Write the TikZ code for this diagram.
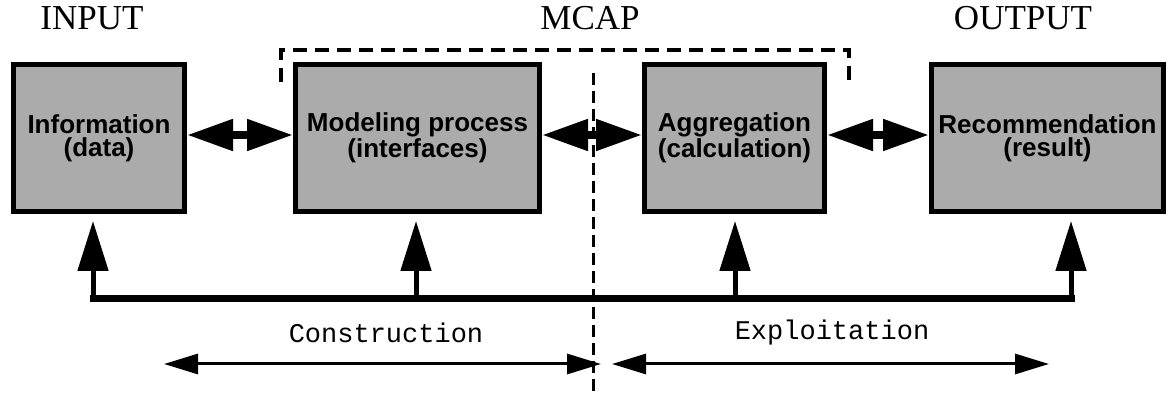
\documentclass[tikz,border=0pt]{standalone}
\usepackage{fontspec}
\setmainfont{Liberation Serif}
\setsansfont{Liberation Sans}
\setmonofont{Liberation Mono}
\usepackage{tikz}
\usetikzlibrary{arrows.meta}
\tikzstyle{procbox} = [draw=black, line width=2.5pt, rectangle, fill=black!33, minimum height=73.5pt, inner sep=2pt, align=center, font=\sffamily\bfseries\fontsize{13}{11.5}\selectfont]
\tikzstyle{headlabel} = [inner sep=0pt, font=\fontsize{17.5}{17.5}\selectfont]
\tikzstyle{phaselabel} = [inner sep=0pt, font=\ttfamily\fontsize{13.5}{13.5}\selectfont]
\tikzstyle{linkarrow} = [line width=4pt, {Triangle[length=23pt,width=15pt]}-{Triangle[length=23pt,width=15pt]}]
\tikzstyle{feedarrow} = [line width=2.5pt, -{Triangle[length=25pt,width=15pt]}, shorten >=3.5pt]
\tikzstyle{phasearrow} = [line width=1.5pt, {Triangle[length=17pt,width=10pt]}-{Triangle[length=17pt,width=10pt]}]
\tikzstyle{mcapline} = [line width=2pt, dash pattern=on 7pt off 4pt]
\tikzstyle{splitline} = [line width=1.5pt, dash pattern=on 6pt off 3pt]

\begin{document}
\begin{tikzpicture}[x=0.5pt, y=-0.5pt]
	\useasboundingbox (0,0) rectangle (1170,394);
	% titoli
	\node [headlabel] (input) at (92,18) {INPUT};
	\node [headlabel] (mcap) at (590,18) {MCAP};
	\node [headlabel] (output) at (1023,18) {OUTPUT};
	% blocchi
	\node [procbox, minimum width=85.5pt] (info) at (99,138) {Information\\(data)};
	\node [procbox, minimum width=122pt] (model) at (417.5,138) {Modeling process\\(interfaces)};
	\node [procbox, minimum width=90pt] (aggr) at (734.5,138) {Aggregation\\(calculation)};
	\node [procbox, minimum width=116pt] (recom) at (1047.5,138) {Recommendation\\(result)};
	% cornice MCAP e separazione
	\coordinate (mcapA) at (281,82);
	\coordinate (mcapB) at (849,84);
	\draw [mcapline] (mcapA) -- (mcapA |- 0,50) -- (mcapB |- 0,50) -- (mcapB);
	\coordinate (splitT) at (593,73);
	\coordinate (splitB) at (593,394);
	\draw [splitline] (splitT) -- (splitB);
	% frecce tra i blocchi
	\draw [linkarrow] ([yshift=1.5pt]info.east) -- ([yshift=1.5pt]model.west);
	\draw [linkarrow] ([yshift=1.5pt]model.east) -- ([yshift=1.5pt]aggr.west);
	\draw [linkarrow] ([yshift=1.5pt]aggr.east) -- ([yshift=1.5pt]recom.west);
	% ritorno
	\coordinate (fb1) at (93,299);
	\coordinate (fb2) at (416,299);
	\coordinate (fb3) at (735,299);
	\coordinate (fb4) at (1071,299);
	\draw [line width=3.5pt, line cap=rect] (fb1) -- (fb4);
	\draw [feedarrow] (fb1) -- (fb1 |- info.south);
	\draw [feedarrow] (fb2) -- (fb2 |- model.south);
	\draw [feedarrow] (fb3) -- (fb3 |- aggr.south);
	\draw [feedarrow] (fb4) -- (fb4 |- recom.south);
	% fasi
	\node [phaselabel] (constr) at (386,333) {Construction};
	\node [phaselabel] (exploit) at (832,333) {Exploitation};
	\coordinate (c1) at (164,364);
	\coordinate (c2) at (601,364);
	\coordinate (e1) at (612,364);
	\coordinate (e2) at (1049,364);
	\draw [phasearrow] (c1) -- (c2);
	\draw [phasearrow] (e1) -- (e2);
\end{tikzpicture}
\end{document}
